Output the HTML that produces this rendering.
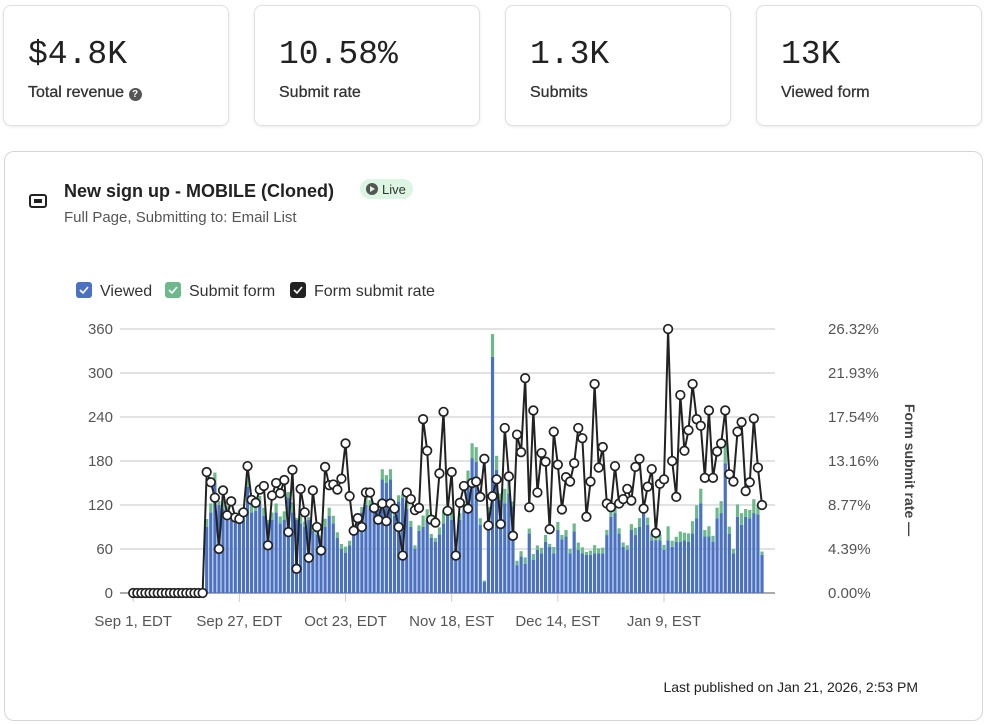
<!DOCTYPE html>
<html><head><meta charset="utf-8"><style>
body{margin:0;width:987px;height:725px;background:#fff;font-family:"Liberation Sans",sans-serif;position:relative;overflow:hidden;color:#222}
.card{position:absolute;top:5px;height:121px;width:226px;border:1px solid #e0e0e0;border-radius:8px;box-shadow:0 1px 3px rgba(0,0,0,.08);box-sizing:border-box}
.val{position:absolute;left:24px;top:30px;font-family:"Liberation Mono",monospace;font-size:33px;color:#222}
.lbl{position:absolute;left:24px;top:78px;font-size:16px;color:#333;-webkit-text-stroke:0.3px #333}
.main{position:absolute;left:4px;top:151px;width:979px;height:570px;border:1px solid #d6d6d6;border-radius:10px;box-sizing:border-box}
</style></head><body>
<div class="card" style="left:3px"><div class="val">$4.8K</div><div class="lbl">Total revenue <span style="display:inline-block;width:13px;height:13px;border-radius:50%;background:#555;color:#fff;font-size:10px;text-align:center;line-height:13px;font-weight:bold;-webkit-text-stroke:0">?</span></div></div>
<div class="card" style="left:254px"><div class="val">10.58%</div><div class="lbl">Submit rate</div></div>
<div class="card" style="left:505px"><div class="val">1.3K</div><div class="lbl">Submits</div></div>
<div class="card" style="left:756px"><div class="val">13K</div><div class="lbl">Viewed form</div></div>
<div class="main"></div>
<svg width="987" height="725" style="position:absolute;left:0;top:0" id="svg" font-family="Liberation Sans, sans-serif">
<g><rect x="30" y="195" width="16" height="12" rx="2" fill="none" stroke="#222" stroke-width="2"/><rect x="34" y="199" width="8" height="4" fill="#222"/></g>
<text x="64" y="197" font-size="18" font-weight="bold" fill="#222">New sign up - MOBILE (Cloned)</text>
<g><rect x="360" y="179" width="53" height="20" rx="10" fill="#ddf5e3"/><circle cx="372" cy="189" r="6" fill="#555"/><path d="M370 186 L375 189 L370 192Z" fill="#ddf5e3"/><text x="382" y="194" font-size="13" fill="#333">Live</text></g>
<text x="64" y="222" font-size="15" fill="#555">Full Page, Submitting to: Email List</text>
<g><rect x="76" y="282" width="16" height="16" rx="3" fill="#4a72c0"/><path d="M80 290 l3 3 l5 -6" stroke="#fff" stroke-width="1.6" fill="none"/><text x="100" y="296" font-size="16" fill="#333">Viewed</text></g>
<g><rect x="165" y="282" width="16" height="16" rx="3" fill="#6db98c"/><path d="M169 290 l3 3 l5 -6" stroke="#fff" stroke-width="1.6" fill="none"/><text x="189" y="296" font-size="16" fill="#333">Submit form</text></g>
<g><rect x="290" y="282" width="16" height="16" rx="3" fill="#222"/><path d="M294 290 l3 3 l5 -6" stroke="#fff" stroke-width="1.6" fill="none"/><text x="314" y="296" font-size="16" fill="#333">Form submit rate</text></g>
<text x="905" y="470" font-size="14" font-weight="bold" fill="#444" text-anchor="middle" transform="rotate(90 905 470)">Form submit rate —</text>
<text x="918" y="692" font-size="14" fill="#222" text-anchor="end">Last published on Jan 21, 2026, 2:53 PM</text>
<g id="chart"></g>
</svg>
<script>
const yTicks=[0,60,120,180,240,300,360];
const y2Labels=["0.00%","4.39%","8.77%","13.16%","17.54%","21.93%","26.32%"];
const xTickIdx=[0,26,52,78,104,130];
const xTickLabels=["Sep 1, EDT","Sep 27, EDT","Oct 23, EDT","Nov 18, EST","Dec 14, EST","Jan 9, EST"];
const zeroDays=18;
const viewed=[90,110,150,120,115,110,100,98,105,100,145,110,112,120,105,95,100,110,95,100,130,110,100,95,90,100,85,80,75,90,105,95,75,60,55,65,80,100,110,120,115,110,115,155,150,155,105,125,130,115,90,60,85,90,100,75,70,80,95,105,100,
59,100,113,154,184,179,93,15,110,322,168,127,122,136,118,38,50,40,81,45,59,54,70,63,54,86,73,77,54,84,59,54,52,52,54,54,54,79,104,109,81,63,59,86,79,90,109,93,72,72,72,59,72,63,70,70,72,70,81,102,122,77,77,70,102,109,177,81,54,104,93,104,102,109,107,52];
const rate=[12.06,11.04,9.50,4.39,10.23,7.75,9.14,7.53,7.38,8.04,12.65,9.28,8.99,10.31,10.67,4.75,9.72,10.97,9.94,11.26,6.07,12.28,2.41,10.38,8.04,3.51,10.23,6.58,4.24,12.57,10.75,10.82,10.31,11.40,14.91,9.65,6.21,7.46,6.58,10.02,10.02,8.48,7.31,8.92,7.16,8.92,8.41,6.58,3.73,10.02,9.36,8.26,8.48,17.33,14.18,7.31,7.02,11.92,18.06,8.19,12.06,
3.73,8.99,10.67,8.41,10.97,11.11,9.58,13.38,6.73,9.65,11.33,6.87,16.45,11.62,5.70,15.79,14.04,21.42,8.55,18.20,10.02,13.96,13.09,6.36,16.08,12.79,8.33,11.55,11.11,12.94,16.45,15.43,7.60,11.11,20.84,12.50,14.55,8.92,8.55,12.65,8.92,9.36,10.38,9.21,12.57,13.38,8.41,10.60,12.35,5.99,10.89,11.33,26.32,13.16,9.58,19.74,14.18,16.23,20.84,17.33,16.67,11.48,18.20,11.48,14.11,14.91,18.20,11.84,11.11,16.08,17.03,10.16,11.04,17.40,12.50,8.77,9.50];
const NS="http://www.w3.org/2000/svg";
const g=document.getElementById('chart');
const X0=120,X1=775,Y0=593,H=264;
const step=(762-206.7)/(viewed.length-1);
const xs=d=>206.7+(d-zeroDays)*step;
const ys=v=>Y0-v/360*H;
const yr=r=>Y0-r/26.32*H;
function mk(t,a,p){const e=document.createElementNS(NS,t);for(const k in a)e.setAttribute(k,a[k]);(p||g).appendChild(e);return e;}
yTicks.forEach((t,i)=>{
 const l=mk('line',{x1:X0,x2:X1,y1:ys(t),y2:ys(t),stroke:i?'#e1e3e3':'#aaa','stroke-width':2});
 
 
 const tx=mk('text',{x:113,y:ys(t)+5,'font-size':15,fill:'#555','text-anchor':'end'});tx.textContent=t;
 
 
 const t2=mk('text',{x:828,y:ys(t)+5,'font-size':15,fill:'#555'});t2.textContent=y2Labels[i];
 
 
});
xTickIdx.forEach((d,i)=>{
 const x=xs(d);
 const tk=mk('line',{x1:x,x2:x,y1:594,y2:602,stroke:'#ccc','stroke-width':1});
 
 
 const tx=mk('text',{x:x,y:626,'font-size':15,fill:'#555','text-anchor':'middle'});tx.textContent=xTickLabels[i];
 
 
});
const pts=[];
for(let i=0;i<zeroDays;i++)pts.push([xs(i),yr(0)]);
viewed.forEach((v,j)=>{
 const i=j+zeroDays,x=xs(i);
 const b=mk('rect',{x:x-1.6,y:ys(v),width:3.2,height:Y0-ys(v),fill:'#4a72c0'});
 
 
 const s=v*rate[j]/100;
 const gb=mk('rect',{x:x-1.6,y:ys(v+s),width:3.2,height:Y0-ys(s),fill:'#6db98c'});
 
 
 pts.push([x,yr(rate[j])]);
});
const pl=mk('polyline',{points:pts.map(p=>p.join(',')).join(' '),fill:'none',stroke:'#222','stroke-width':2});


pts.forEach(p=>{
 const c=mk('circle',{cx:p[0],cy:p[1],r:4.3,fill:'#fff',stroke:'#222','stroke-width':1.7});
 
 
});
</script>
</body></html>
